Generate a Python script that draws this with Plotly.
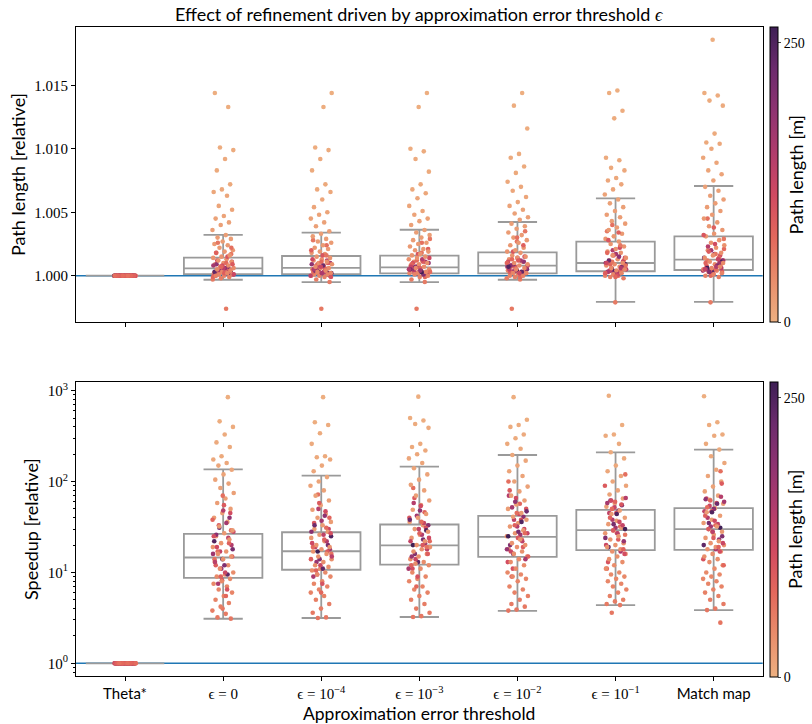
import plotly.graph_objects as go

# ---------------- categories / tick labels ----------------
categories = ["Theta*", "eps=0", "eps=1e-4", "eps=1e-3", "eps=1e-2", "eps=1e-1", "Match map"]
SANS = "Lato"
SERIF = "Liberation Serif"
tick_labels = [
    '<span style="font-family:%s">Theta*</span>' % SANS,
    "ϵ = 0",
    "ϵ = 10<sup>−4</sup>",
    "ϵ = 10<sup>−3</sup>",
    "ϵ = 10<sup>−2</sup>",
    "ϵ = 10<sup>−1</sup>",
    '<span style="font-family:%s">Match map</span>' % SANS,
]

# ---------------- path length of each query [m] (colour) ----------------
path_len = [262, 248, 236, 225, 214, 205, 196, 188, 180, 172, 165, 158, 152, 146, 140, 135, 130, 126,
            122, 118, 114, 110, 106, 102, 98, 95, 92, 89, 86, 83, 80, 77, 74, 71, 68, 65,
            2, 3, 4, 5, 6, 7, 8, 9, 10, 11, 12, 13, 14, 15, 16, 17, 18, 19, 20, 21, 22, 23,
            24, 25, 26, 27, 28, 29, 30, 31, 32, 33, 34, 35, 36, 37, 38, 39, 40, 41, 42, 43,
            44, 45, 46, 47, 48, 50, 52, 54, 56, 58, 60, 62]

# ---------------- relative path length, excess in per-mille (1.0 + v/1000) ----------------
len_theta = [0.0] * len(path_len)
len_eps0 = [0.2, 0.5, 0.3, 0.7, 0.4, 0.1, 0.6, 0.9, 0.3, 0.5, 0.8, 0.2, 0.4, 1.1, 0.6, 0.0, 0.3, 0.7,
            0.1, 0.6, 1.2, 0.3, 0.8, 0.0, 1.5, 0.4, 0.9, 0.2, 1.8, 0.5, 0.7, -0.1, 1.0, 0.3, 2.2, 0.6,
            14.4, 13.3, 10.1, 9.9, 9.2, 8.3, 7.2, 6.8, 6.6, 6.3, 5.5, 5.2, 4.7, 4.5, 4.2, 4.0, 3.6, 3.2,
            3.0, 2.9, 2.7, 2.5, 2.4, 2.2, 2.0, 1.9, 1.8, 1.6, 1.5, 1.4, 1.3, 1.2, 1.1, 1.0, 0.9, 0.8,
            0.7, 0.6, 0.5, 0.5, 0.4, 0.3, 0.2, 0.2, 0.1, 0.1, 0.0, 0.0, -0.1, -0.2, -0.3, -2.6, 2.6, 1.7]
len_eps4 = [0.3, 0.5, 0.2, 0.8, 0.4, 0.1, 0.7, 0.9, 0.3, 0.6, 1.0, 0.2, 0.5, 1.2, 0.4, 0.0, 0.3, 0.6,
            0.2, 0.7, 1.3, 0.4, 0.9, -0.1, 1.6, 0.5, 1.0, 0.1, 2.0, 0.6, 0.8, 0.0, 1.1, 0.3, 2.4, 0.5,
            14.4, 13.3, 10.1, 9.9, 9.2, 8.3, 7.2, 6.8, 6.6, 6.0, 5.4, 5.0, 4.8, 4.5, 4.2, 3.9, 3.5, 3.3,
            3.1, 2.9, 2.7, 2.6, 2.4, 2.2, 2.1, 1.9, 1.8, 1.7, 1.5, 1.4, 1.3, 1.2, 1.1, 1.0, 0.9, 0.8,
            0.7, 0.6, 0.6, 0.5, 0.4, 0.3, 0.2, 0.2, 0.1, 0.1, 0.0, 0.0, -0.1, -0.3, -0.5, -2.6, 2.8, 1.6]
len_eps3 = [0.3, 0.6, 0.2, 0.8, 0.5, 0.1, 0.7, 1.0, 0.4, 0.6, 1.1, 0.2, 0.5, 1.3, 0.4, 0.1, 0.3, 0.7,
            0.2, 0.7, 1.4, 0.4, 1.0, 0.0, 1.7, 0.5, 1.1, 0.2, 2.1, 0.6, 0.9, -0.1, 1.2, 0.3, 2.6, 0.6,
            14.4, 13.3, 10.0, 9.8, 9.2, 8.2, 7.2, 6.8, 6.5, 6.1, 5.5, 5.1, 4.8, 4.5, 4.3, 4.0, 3.6, 3.4,
            3.2, 3.0, 2.8, 2.6, 2.5, 2.3, 2.1, 2.0, 1.9, 1.7, 1.6, 1.5, 1.4, 1.3, 1.2, 1.1, 1.0, 0.9,
            0.8, 0.7, 0.6, 0.5, 0.4, 0.4, 0.3, 0.2, 0.2, 0.1, 0.1, 0.0, -0.1, -0.3, -0.5, -2.6, 2.9, 1.8]
len_eps2 = [0.4, 0.7, 0.3, 0.9, 0.5, 0.2, 0.8, 1.1, 0.4, 0.7, 1.2, 0.3, 0.6, 1.4, 0.5, 0.1, 0.4, 0.8,
            0.2, 0.8, 1.5, 0.5, 1.1, 0.0, 1.9, 0.6, 1.2, 0.3, 2.4, 0.7, 1.0, -0.1, 1.3, 0.4, 3.0, 0.7,
            14.4, 13.4, 11.6, 9.6, 9.3, 8.6, 8.1, 7.4, 7.0, 6.7, 6.2, 5.8, 5.5, 5.2, 4.9, 4.6, 4.4, 4.1,
            3.9, 3.7, 3.4, 3.2, 3.0, 2.8, 2.6, 2.4, 2.2, 2.0, 1.9, 1.8, 1.6, 1.5, 1.4, 1.3, 1.1, 1.0,
            0.9, 0.8, 0.7, 0.6, 0.5, 0.4, 0.3, 0.2, 0.2, 0.1, 0.0, 0.0, -0.1, -0.2, -0.3, -2.6, 3.5, 2.7]
len_eps1 = [0.5, 0.9, 0.3, 1.2, 0.7, 0.2, 1.0, 1.5, 0.4, 0.8, 1.7, 0.3, 0.6, 2.0, 0.5, 0.1, 0.4, 1.1,
            0.3, 1.0, 2.2, 0.6, 1.4, 0.0, 2.8, 0.7, 1.6, 0.2, 3.4, 0.9, 1.2, -0.1, 1.8, 0.4, 4.0, 0.8,
            14.6, 14.4, 13.0, 12.4, 9.3, 9.1, 8.5, 8.3, 7.7, 7.5, 7.2, 6.8, 6.4, 6.0, 5.7, 5.4, 5.1, 4.8,
            4.6, 4.3, 4.1, 3.8, 3.6, 3.3, 3.1, 2.9, 2.7, 2.5, 2.3, 2.1, 1.9, 1.8, 1.6, 1.4, 1.3, 1.2,
            1.0, 0.9, 0.8, 0.7, 0.6, 0.5, 0.4, 0.3, 0.2, 0.1, 0.0, 0.0, -0.1, -0.2, -2.1, 3.5, 2.4, 1.1]
len_match = [0.6, 1.1, 0.4, 1.4, 0.8, 0.3, 1.2, 1.7, 0.5, 1.0, 2.0, 0.4, 0.7, 2.3, 0.6, 0.2, 0.5, 1.3,
             0.4, 1.2, 2.5, 0.7, 1.6, 0.1, 3.2, 0.8, 1.9, 0.3, 3.8, 1.0, 1.4, 0.0, 2.1, 0.5, 4.5, 0.9,
             18.6, 14.4, 14.2, 13.8, 13.4, 11.2, 10.5, 10.4, 10.0, 9.3, 8.9, 8.3, 8.0, 7.5, 7.0, 6.7, 6.3, 6.0,
             5.7, 5.4, 5.1, 4.8, 4.5, 4.2, 3.9, 3.6, 3.3, 3.1, 2.8, 2.6, 2.4, 2.2, 2.0, 1.8, 1.6, 1.4,
             1.3, 1.1, 1.0, 0.9, 0.8, 0.7, 0.6, 0.5, 0.4, 0.3, 0.2, 0.1, 0.0, -0.1, -2.1, 2.9, 1.7, 1.2]

# ---------------- relative speedup ----------------
spd_theta = [1.0] * len(path_len)
spd_eps0 = [14, 22, 9.5, 31, 18, 12, 26, 40, 11, 16, 35, 7.5, 20, 48, 13, 24, 17, 28,
            10, 19, 45, 8.2, 25, 6.5, 33, 15, 55, 12, 21, 9, 38, 5.5, 17, 29, 70, 14,
            850, 460, 400, 330, 270, 240, 190, 175, 160, 150, 135, 120, 105, 95, 85, 75, 65, 58,
            50, 45, 40, 36, 32, 29, 27, 25, 23, 21, 19, 17, 16, 15, 14, 13, 12, 11,
            10, 9.5, 9, 8.5, 8, 7.5, 7, 6.5, 6, 5.5, 5, 4.6, 4.2, 3.8, 3.5, 3.2, 3.1, 4.0]
spd_eps4 = [17, 25, 11, 33, 20, 14, 28, 42, 13, 18, 37, 9, 22, 50, 15, 26, 19, 30,
            12, 21, 47, 9.5, 27, 7.5, 35, 17, 58, 14, 23, 10.5, 40, 6, 19, 31, 72, 16,
            850, 450, 420, 340, 260, 190, 185, 175, 150, 130, 112, 100, 90, 80, 70, 62, 55, 49,
            44, 40, 36, 33, 30, 28, 26, 24, 22, 20, 19, 18, 17, 16, 15, 14, 13, 12,
            11.5, 11, 10.5, 10, 9.5, 9, 8, 7.5, 7, 6.5, 6, 5.5, 5, 4.5, 4, 3.6, 3.2, 3.15]
spd_eps3 = [20, 29, 13, 38, 23, 16, 33, 48, 15, 21, 42, 11, 26, 58, 18, 30, 22, 35,
            14, 24, 54, 11, 31, 9, 40, 20, 66, 16, 27, 12, 46, 7, 22, 36, 85, 19,
            860, 500, 470, 430, 390, 260, 240, 220, 200, 180, 160, 140, 120, 105, 92, 80, 70, 62,
            55, 49, 44, 40, 36, 33, 30, 28, 26, 24, 22, 20, 19, 18, 17, 16, 15, 14,
            13, 12.5, 12, 11, 10, 9, 8.5, 8, 7, 6.5, 6, 5.5, 5, 4.5, 4, 3.6, 3.3, 3.23]
spd_eps2 = [25, 36, 16, 47, 28, 20, 41, 60, 18, 26, 52, 14, 32, 70, 22, 38, 27, 44,
            17, 30, 66, 13, 38, 11, 50, 24, 80, 19, 33, 15, 57, 9, 27, 45, 100, 23,
            850, 480, 420, 400, 330, 300, 260, 230, 196, 170, 150, 130, 115, 100, 88, 78, 70, 62,
            56, 50, 45, 41, 38, 35, 32, 29, 27, 25, 23, 21, 20, 19, 18, 17, 16, 15,
            14, 13, 12, 11, 10, 9.5, 9, 8.5, 8, 7, 6.5, 6, 5.5, 5, 4.5, 4.2, 3.9, 3.8]
spd_eps1 = [30, 44, 19, 55, 34, 24, 48, 62, 22, 31, 58, 17, 38, 66, 27, 45, 33, 52,
            20, 36, 62, 16, 45, 13, 56, 29, 90, 23, 40, 18, 60, 11, 32, 50, 120, 27,
            880, 420, 330, 320, 260, 210, 180, 150, 130, 115, 100, 90, 80, 72, 65, 58, 53, 48,
            44, 40, 37, 34, 31, 29, 27, 25, 23, 21, 20, 19, 18, 17, 16, 15, 14, 13,
            12, 11, 10, 9.5, 9, 8.5, 8, 7.5, 7, 6.5, 6, 5.5, 5, 4.8, 4.5, 4.37, 3.6, 26]
spd_match = [31, 46, 20, 57, 35, 25, 50, 64, 23, 32, 60, 18, 40, 68, 28, 47, 34, 54,
             21, 37, 65, 17, 47, 14, 58, 30, 95, 24, 42, 19, 62, 12, 33, 52, 130, 28,
             870, 450, 420, 330, 320, 260, 225, 190, 160, 135, 115, 100, 88, 78, 70, 63, 57, 51,
             46, 42, 38, 35, 32, 30, 28, 26, 24, 22, 21, 20, 19, 18, 17, 16, 15, 14,
             13, 12, 11, 10, 9.5, 9, 8.5, 8, 7.5, 7, 6.5, 6, 5.5, 5, 4.5, 4, 3.85, 2.8]

# ---------------- box statistics ----------------
len_lo = [1.0, 0.99968, 0.99950, 0.99950, 0.99968, 0.99793, 0.99793]
len_q1 = [1.0, 1.00013, 1.00013, 1.00019, 1.00019, 1.00035, 1.00045]
len_med = [1.0, 1.00058, 1.00061, 1.00066, 1.00079, 1.00100, 1.00126]
len_q3 = [1.0, 1.00142, 1.00155, 1.00158, 1.00184, 1.00268, 1.00310]
len_hi = [1.0, 1.00321, 1.00339, 1.00362, 1.00423, 1.00610, 1.00707]

spd_lo = [1.0, 3.09, 3.15, 3.23, 3.78, 4.37, 3.85]
spd_q1 = [1.0, 8.73, 10.7, 12.2, 14.8, 17.6, 17.7]
spd_med = [1.0, 14.6, 17.1, 19.9, 24.6, 29.2, 29.9]
spd_q3 = [1.0, 26.6, 27.7, 33.7, 41.9, 48.7, 50.9]
spd_hi = [1.0, 136, 116, 146, 196, 210, 225]

len_series = [len_theta, len_eps0, len_eps4, len_eps3, len_eps2, len_eps1, len_match]
spd_series = [spd_theta, spd_eps0, spd_eps4, spd_eps3, spd_eps2, spd_eps1, spd_match]

# seaborn "flare"
flare = [[0.0, "#EDB081"], [0.143, "#E98D6B"], [0.286, "#E3685C"], [0.429, "#D14A61"],
         [0.571, "#B13C6C"], [0.714, "#8F3371"], [0.857, "#6C2B6D"], [1.0, "#3E1F55"]]

BOXGRAY = "#9a9a9a"
W, H = 812, 724
x0, x1 = 76 / W, 762.7 / W
top_dom = [(H - 322) / H, (H - 27) / H]
bot_dom = [(H - 676) / H, (H - 382) / H]

fig = go.Figure()

xs_idx = list(range(len(categories)))


def jitter(i, k):
    return (((i + 37 * k) * 0.6180339887) % 1.0 - 0.5) * 0.22


def draw_order(n, k, shift):
    if k == 0:
        # Theta*: every point sits at 1; the reddish mid-length ones end up on top
        return list(range(36, n)) + list(range(0, 18)) + list(range(18, min(36, n)))
    return sorted(range(n), key=lambda i: ((i * 0.7548776662 + k * shift) % 1.0))


# boxes
fig.add_trace(go.Box(x=xs_idx, q1=len_q1, median=len_med, q3=len_q3,
                     lowerfence=len_lo, upperfence=len_hi, width=0.8, whiskerwidth=0.5,
                     fillcolor="rgba(255,255,255,0)", line=dict(color=BOXGRAY, width=1.8),
                     boxpoints=False, showlegend=False, hoverinfo="skip", xaxis="x", yaxis="y"))
fig.add_trace(go.Box(x=xs_idx, q1=spd_q1, median=spd_med, q3=spd_q3,
                     lowerfence=spd_lo, upperfence=spd_hi, width=0.8, whiskerwidth=0.5,
                     fillcolor="rgba(255,255,255,0)", line=dict(color=BOXGRAY, width=1.8),
                     boxpoints=False, showlegend=False, hoverinfo="skip", xaxis="x2", yaxis="y2"))

# strip points
for k, cat in enumerate(categories):
    n = min(len(path_len), len(len_series[k]))
    order = draw_order(n, k, 0.31)
    fig.add_trace(go.Scatter(
        x=[k + jitter(i, k) for i in order],
        y=[1.0 + len_series[k][i] / 1000.0 for i in order],
        mode="markers",
        marker=dict(size=4.6, color=[path_len[i] for i in order], coloraxis="coloraxis", line=dict(width=0)),
        showlegend=False, hoverinfo="skip", xaxis="x", yaxis="y"))
    n2 = min(len(path_len), len(spd_series[k]))
    order2 = draw_order(n2, k, 0.17)
    fig.add_trace(go.Scatter(
        x=[k + jitter(i, k + 3) for i in order2],
        y=[spd_series[k][i] for i in order2],
        mode="markers",
        marker=dict(size=4.6, color=[path_len[i] for i in order2], coloraxis="coloraxis2", line=dict(width=0)),
        showlegend=False, hoverinfo="skip", xaxis="x2", yaxis="y2"))

# reference lines at 1
fig.add_shape(type="line", xref="x domain", yref="y", x0=0, x1=1, y0=1.0, y1=1.0,
              line=dict(color="#1f77b4", width=1.6), layer="below")
fig.add_shape(type="line", xref="x2 domain", yref="y2", x0=0, x1=1, y0=1.0, y1=1.0,
              line=dict(color="#1f77b4", width=1.6), layer="below")

axis_common = dict(showline=True, linecolor="black", linewidth=1, mirror=True, showgrid=False,
                   zeroline=False, ticks="outside", ticklen=4, tickcolor="black", tickwidth=1)

cb_common = dict(x=769.5 / W, xanchor="left", thickness=8, len=295 / H, lenmode="fraction",
                 ypad=0, xpad=0, outlinewidth=1, outlinecolor="black",
                 tickvals=[0, 250], ticktext=["0", "250"], ticks="outside", ticklen=3,
                 tickfont=dict(family=SERIF, size=14, color="black"))

fig.update_layout(
    width=W, height=H, margin=dict(l=0, r=0, t=0, b=0),
    paper_bgcolor="white", plot_bgcolor="white",
    xaxis=dict(domain=[x0, x1], anchor="y", range=[-0.5, 6.5], tickvals=xs_idx,
               showticklabels=False, **axis_common),
    yaxis=dict(domain=top_dom, anchor="x", range=[0.99635, 1.0196],
               tickvals=[1.0, 1.005, 1.010, 1.015], ticktext=["1.000", "1.005", "1.010", "1.015"],
               tickfont=dict(family=SERIF, size=15, color="black"), **axis_common),
    xaxis2=dict(domain=[x0, x1], anchor="y2", range=[-0.5, 6.5], tickvals=xs_idx, ticktext=tick_labels,
                tickfont=dict(family=SERIF, size=15, color="black"), **axis_common),
    yaxis2=dict(domain=bot_dom, anchor="x2", type="log", range=[-0.14, 3.096],
                tickvals=[1, 10, 100, 1000],
                ticktext=["10<sup>0</sup>", "10<sup>1</sup>", "10<sup>2</sup>", "10<sup>3</sup>"],
                tickfont=dict(family=SERIF, size=15, color="black"),
                minor=dict(ticks="outside", ticklen=2, tickcolor="black", dtick="D1", showgrid=False),
                **axis_common),
    coloraxis=dict(colorscale=flare, cmin=0, cmax=264,
                   colorbar=dict(y=top_dom[1], yanchor="top", **cb_common)),
    coloraxis2=dict(colorscale=flare, cmin=0, cmax=264,
                    colorbar=dict(y=bot_dom[1], yanchor="top", **cb_common)),
    font=dict(family=SANS, color="black"),
)

ann_font = dict(family=SANS, size=18, color="black")
fig.add_annotation(text="Effect of refinement driven by approximation error threshold "
                        "<span style=\"font-family:%s;font-style:italic\">ϵ</span>" % SERIF,
                   x=419 / W, y=(H - 14) / H, xref="paper", yref="paper",
                   xanchor="center", yanchor="middle", showarrow=False, font=ann_font)
fig.add_annotation(text="Path length [relative]", x=17.5 / W, y=(H - 174.5) / H, xref="paper", yref="paper",
                   xanchor="center", yanchor="middle", textangle=-90, showarrow=False, font=ann_font)
fig.add_annotation(text="Speedup [relative]", x=31 / W, y=(H - 529) / H, xref="paper", yref="paper",
                   xanchor="center", yanchor="middle", textangle=-90, showarrow=False, font=ann_font)
fig.add_annotation(text="Approximation error threshold", x=419 / W, y=(H - 713) / H, xref="paper", yref="paper",
                   xanchor="center", yanchor="middle", showarrow=False,
                   font=dict(family=SANS, size=17.5, color="black"))
for yc in (174.5, 529):
    fig.add_annotation(text="Path length [m]", x=795 / W, y=(H - yc) / H, xref="paper", yref="paper",
                       xanchor="center", yanchor="middle", textangle=-90, showarrow=False, font=ann_font)

fig.write_html("out.html")
